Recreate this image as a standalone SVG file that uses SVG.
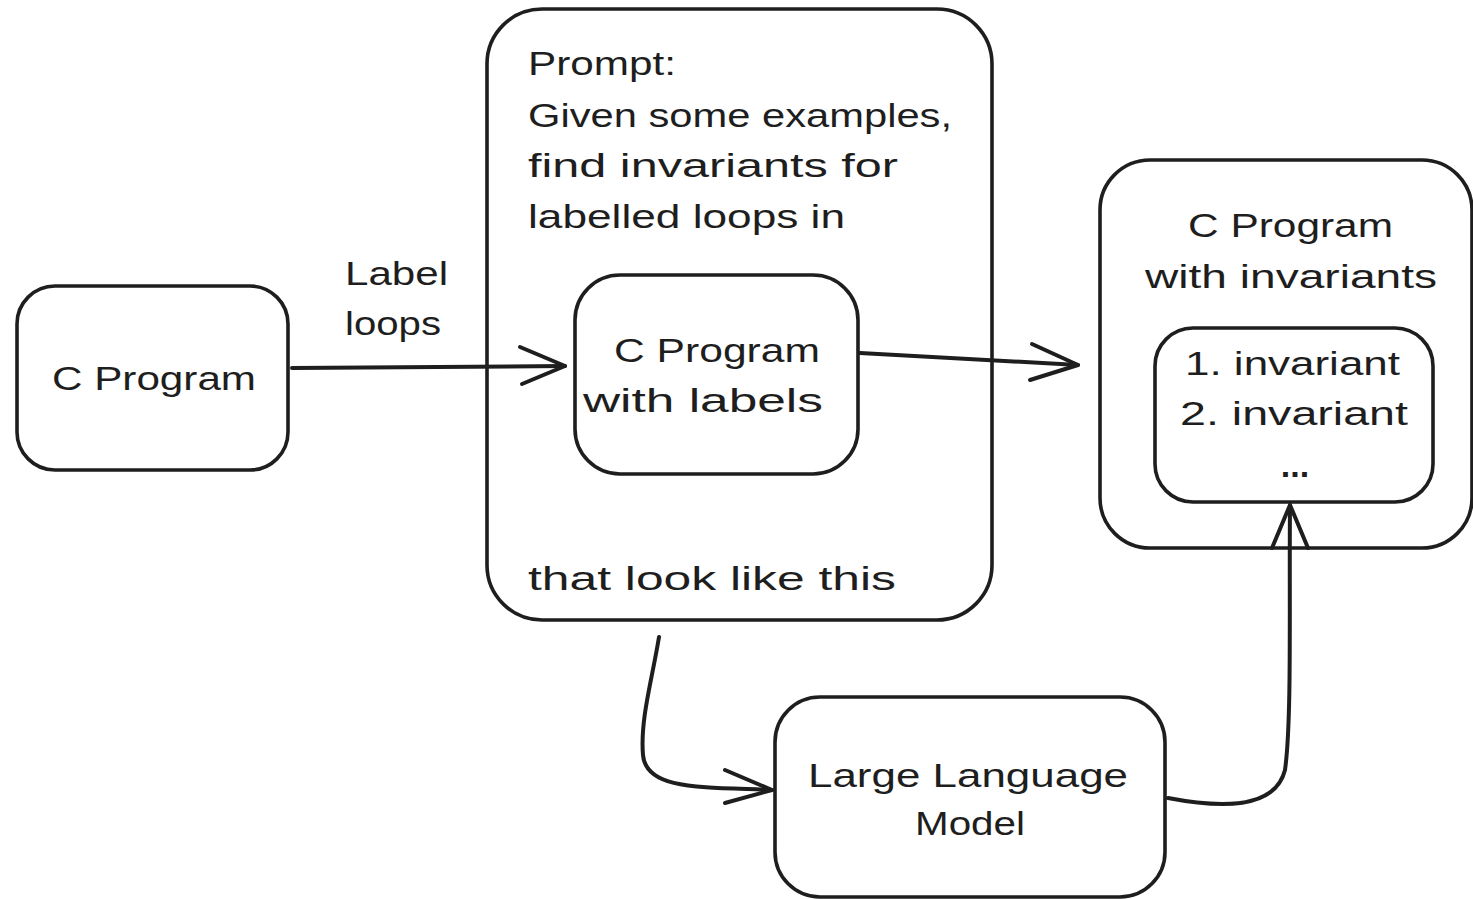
<svg xmlns="http://www.w3.org/2000/svg" width="1473" height="899" viewBox="0 0 1473 899">
<style>
.box{fill:none;stroke:#1e1e1e;stroke-width:3.6}
.ln{fill:none;stroke:#1e1e1e;stroke-width:4;stroke-linecap:round;stroke-linejoin:round}
.t{font-family:"Liberation Sans",Arial,sans-serif;font-size:34px;fill:#1e1e1e}
.m{text-anchor:middle}
</style>
<rect width="1473" height="899" fill="#ffffff"/>
<g id="prompt">
<rect class="box" x="487" y="9" width="505" height="611" rx="55"/>
<text class="t" x="528" y="75" textLength="148" lengthAdjust="spacingAndGlyphs">Prompt:</text>
<text class="t" x="528" y="127" textLength="424" lengthAdjust="spacingAndGlyphs">Given some examples,</text>
<text class="t" x="528" y="177" textLength="370" lengthAdjust="spacingAndGlyphs">find invariants for</text>
<text class="t" x="528" y="228" textLength="317" lengthAdjust="spacingAndGlyphs">labelled loops in</text>
<text class="t" x="528" y="590" textLength="368" lengthAdjust="spacingAndGlyphs">that look like this</text>
</g>
<g id="cprog">
<rect class="box" x="17" y="286" width="271" height="184" rx="38"/>
<text class="t" x="52" y="390" textLength="204" lengthAdjust="spacingAndGlyphs">C Program</text>
</g>
<g id="labelled">
<rect class="box" x="575" y="275" width="283" height="199" rx="45"/>
<text class="t" x="614" y="362" textLength="206" lengthAdjust="spacingAndGlyphs">C Program</text>
<text class="t" x="583" y="412" textLength="240" lengthAdjust="spacingAndGlyphs">with labels</text>
</g>
<g id="result">
<rect class="box" x="1100" y="160" width="372" height="388" rx="50"/>
<text class="t" x="1188" y="237" textLength="205" lengthAdjust="spacingAndGlyphs">C Program</text>
<text class="t" x="1145" y="288" textLength="292" lengthAdjust="spacingAndGlyphs">with invariants</text>
</g>
<g id="invariants">
<rect class="box" x="1155" y="328" width="278" height="174" rx="38"/>
<text class="t" x="1185" y="375" textLength="215" lengthAdjust="spacingAndGlyphs">1. invariant</text>
<text class="t" x="1180" y="425" textLength="228" lengthAdjust="spacingAndGlyphs">2. invariant</text>
<text class="t m" x="1295" y="477" font-weight="bold">...</text>
</g>
<g id="llm">
<rect class="box" x="775" y="697" width="390" height="200" rx="45"/>
<text class="t" x="808" y="787" textLength="320" lengthAdjust="spacingAndGlyphs">Large Language</text>
<text class="t" x="915" y="835" textLength="110" lengthAdjust="spacingAndGlyphs">Model</text>
</g>
<g id="connectors">
<path class="ln" d="M292 368 L565 366"/>
<path class="ln" d="M520 347 L565 366 L522 384"/>
<text class="t" x="345" y="285" textLength="103" lengthAdjust="spacingAndGlyphs">Label</text>
<text class="t" x="345" y="335" textLength="96" lengthAdjust="spacingAndGlyphs">loops</text>
<path class="ln" d="M860 353 L1078 365"/>
<path class="ln" d="M1032 344 L1078 365 L1030 380"/>
<path class="ln" d="M659 637 C652 680 640 720 643 755 C646 790 700 787 772 790"/>
<path class="ln" d="M725 770 L772 790 L725 803"/>
<path class="ln" d="M1168 798 C1220 808 1275 810 1285 770 C1292 720 1289 600 1290 505"/>
<path class="ln" d="M1272 548 L1290 505 L1308 548"/>
</g>
</svg>
